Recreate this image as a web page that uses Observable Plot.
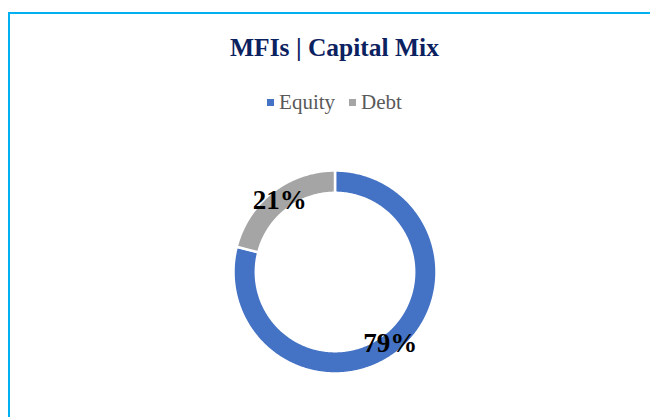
<!DOCTYPE html>
<html>
<head>
<meta charset="utf-8">
<script src="https://cdn.jsdelivr.net/npm/d3@7"></script>
<script src="https://cdn.jsdelivr.net/npm/@observablehq/plot@0.6"></script>
<style>
  html, body { margin: 0; padding: 0; background: #fff; width: 650px; height: 417px; overflow: hidden; }
  #frame { position: absolute; left: 8px; top: 12px; width: 700px; height: 460px;
           border-left: 2px solid #00B0F0; border-top: 2px solid #00B0F0; }
  #title { position: absolute; left: 10px; width: 649px; top: 33px; line-height: 30px; text-align: center;
           font-family: "Liberation Serif", serif; font-weight: bold; font-size: 25.5px; color: #0B2160; }
  #legend { position: absolute; left: 10px; width: 649px; top: 89px; line-height: 26px; text-align: center;
            font-family: "Liberation Serif", serif; font-size: 21px; color: #595959; }
  #legend span.item { display: inline-block; margin: 0 7px; }
  #legend span.sw { display: inline-block; width: 7px; height: 7px; margin-right: 5px; vertical-align: 3px; }
  #chart { position: absolute; left: 0; top: 140px; }
</style>
</head>
<body>
<div id="frame"></div>
<div id="title">MFIs | Capital Mix</div>
<div id="legend"></div>
<div id="chart"></div>
<script>
const categories = ["Equity", "Debt"];
const values = [79, 21];
const colors = ["#4472C4", "#A5A5A5"];
const labels = ["79%", "21%"];

// legend
const legend = document.getElementById("legend");
categories.forEach((c, i) => {
  const item = document.createElement("span");
  item.className = "item";
  const sw = document.createElement("span");
  sw.className = "sw";
  sw.style.background = colors[i];
  item.appendChild(sw);
  item.appendChild(document.createTextNode(c));
  legend.appendChild(item);
});

// donut geometry from d3.pie
const inner = 0.78, outer = 1.0;
const arcs = d3.pie().sort(null).value(d => d.value)(categories.map((c, i) => ({category: c, value: values[i], label: labels[i]})));
const pts = [];
arcs.forEach(a => {
  const n = Math.max(8, Math.ceil((a.endAngle - a.startAngle) / 0.01));
  for (let k = 0; k <= n; k++) {
    const t = a.startAngle + (a.endAngle - a.startAngle) * k / n;
    pts.push({category: a.data.category, x: outer * Math.sin(t), y: outer * Math.cos(t)});
  }
  for (let k = n; k >= 0; k--) {
    const t = a.startAngle + (a.endAngle - a.startAngle) * k / n;
    pts.push({category: a.data.category, x: inner * Math.sin(t), y: inner * Math.cos(t)});
  }
});
const lbl = arcs.map(a => {
  const m = (a.startAngle + a.endAngle) / 2, r = 0.89;
  return {text: a.data.label, x: r * Math.sin(m), y: r * Math.cos(m)};
});

const cx = 334.5, cy = 131.5, R = 101.5;
const chart = Plot.plot({
  width: 650,
  height: 277,
  margin: 0,
  x: {domain: [-1, 1], range: [cx - R, cx + R], axis: null},
  y: {domain: [-1, 1], range: [cy + R, cy - R], axis: null},
  color: {domain: categories, range: colors},
  marks: [
    Plot.line(pts, {x: "x", y: "y", z: "category", fill: "category", stroke: "white", strokeWidth: 2.5, curve: "linear-closed"}),
    Plot.text(lbl, {x: "x", y: "y", text: "text", fill: "black", fontSize: 27, fontWeight: "bold", fontFamily: "Liberation Serif"})
  ]
});
document.getElementById("chart").appendChild(chart);
</script>
</body>
</html>
